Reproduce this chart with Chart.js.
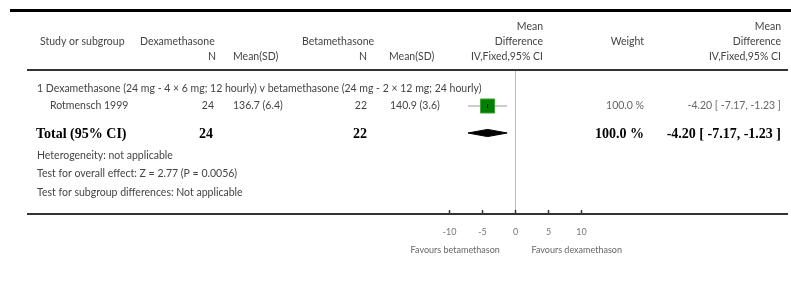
<!DOCTYPE html>
<html>
<head>
<meta charset="utf-8">
<script src="https://cdn.jsdelivr.net/npm/chart.js@4.4.0/dist/chart.umd.min.js"></script>
<style>
  html, body { margin: 0; padding: 0; background: #fff; }
  #wrap { width: 791px; height: 287px; }
</style>
</head>
<body>
<div id="wrap"><canvas id="forest"></canvas></div>
<script>
// ---- data ----
const studies = ["Rotmensch 1999"];
const dexN = [24];
const dexMean = [136.7];
const dexSD = [6.4];
const betaN = [22];
const betaMean = [140.9];
const betaSD = [3.6];
const meanDiff = [-4.20];
const ciLow = [-7.17];
const ciHigh = [-1.23];
const weights = [100.0];

const totalDexN = 24;
const totalBetaN = 22;
const totalMD = -4.20;
const totalLow = -7.17;
const totalHigh = -1.23;
const totalWeight = 100.0;

const axisTicks = [-10, -5, 0, 5, 10];
const subgroupTitle = "1 Dexamethasone (24 mg - 4 \u00d7 6 mg; 12 hourly) v betamethasone (24 mg - 2 \u00d7 12 mg; 24 hourly)";
const footnotes = [
  "Heterogeneity: not applicable",
  "Test for overall effect: Z = 2.77 (P = 0.0056)",
  "Test for subgroup differences: Not applicable"
];

// ---- layout ----
const SANS = "Lato, 'Open Sans', sans-serif";
const SERIF = "'Liberation Serif', 'DejaVu Serif', serif";
const studyRow = 2;      // y-units (18px each)
const totalRow = 3.5;
const diamondHalf = 0.2;

const fmtCI = (m, l, h) => m.toFixed(2) + " [ " + l.toFixed(2) + ", " + h.toFixed(2) + " ]";

// CI lines + squares
const ciData = [];
studies.forEach((s, i) => {
  ciData.push({ x: ciLow[i], y: studyRow + i });
  ciData.push({ x: ciHigh[i], y: studyRow + i });
  ciData.push({ x: NaN, y: NaN });
});
const pointData = studies.map((s, i) => ({ x: meanDiff[i], y: studyRow + i }));
const diamond = [
  { x: totalLow, y: totalRow },
  { x: totalMD, y: totalRow - diamondHalf },
  { x: totalHigh, y: totalRow },
  { x: totalMD, y: totalRow + diamondHalf },
  { x: totalLow, y: totalRow }
];

function txt(ctx, s, x, y, align, font, color) {
  ctx.font = font;
  ctx.fillStyle = color;
  ctx.textAlign = align;
  ctx.textBaseline = "middle";
  ctx.fillText(s, x, y);
}

// zero line under the marks
const zeroLine = {
  id: "zeroLine",
  beforeDatasetsDraw(chart) {
    const ctx = chart.ctx;
    const a = chart.chartArea;
    const px = Math.round(chart.scales.x.getPixelForValue(0)) + 0.5;
    ctx.save();
    ctx.strokeStyle = "#bbb";
    ctx.lineWidth = 1;
    ctx.beginPath();
    ctx.moveTo(px, a.top);
    ctx.lineTo(px, a.bottom);
    ctx.stroke();
    ctx.restore();
  }
};

const tablePlugin = {
  id: "forestTable",
  afterDraw(chart) {
    const ctx = chart.ctx;
    const xs = chart.scales.x, ys = chart.scales.y;
    const area = chart.chartArea;
    ctx.save();

    // rules
    ctx.fillStyle = "#000";
    ctx.fillRect(10, 9, 781, 3);
    ctx.fillStyle = "#333";
    ctx.fillRect(area.left, area.top - 1, area.right - area.left, 2);
    ctx.fillRect(area.left, area.bottom - 1, area.right - area.left, 2);

    // axis ticks + labels
    ctx.strokeStyle = "#333";
    ctx.lineWidth = 1.5;
    axisTicks.forEach(v => {
      const px = Math.round(xs.getPixelForValue(v)) + 0.5;
      ctx.beginPath();
      ctx.moveTo(px, area.bottom - 4);
      ctx.lineTo(px, area.bottom);
      ctx.stroke();
      txt(ctx, String(v), px, 232, "center", "9px " + SANS, "#777");
    });

    const hf = "10.5px " + SANS;
    const hc = "#444";
    // header
    txt(ctx, "Study or subgroup", 40, 42, "left", hf, hc);
    txt(ctx, "Dexamethasone", 140, 42, "left", hf, hc);
    txt(ctx, "N", 216, 57, "right", hf, hc);
    txt(ctx, "Mean(SD)", 233, 57, "left", hf, hc);
    txt(ctx, "Betamethasone", 302, 42, "left", hf, hc);
    txt(ctx, "N", 367, 57, "right", hf, hc);
    txt(ctx, "Mean(SD)", 389, 57, "left", hf, hc);
    txt(ctx, "Mean", 543, 27, "right", hf, hc);
    txt(ctx, "Difference", 543, 42, "right", hf, hc);
    txt(ctx, "IV,Fixed,95% CI", 543, 57, "right", hf, hc);
    txt(ctx, "Weight", 644, 42, "right", hf, hc);
    txt(ctx, "Mean", 781, 27, "right", hf, hc);
    txt(ctx, "Difference", 781, 42, "right", hf, hc);
    txt(ctx, "IV,Fixed,95% CI", 781, 57, "right", hf, hc);

    // subgroup title
    txt(ctx, subgroupTitle, 37, ys.getPixelForValue(1.05), "left", hf, hc);

    // studies
    studies.forEach((s, i) => {
      const py = ys.getPixelForValue(studyRow + i);
      txt(ctx, s, 50, py, "left", hf, hc);
      txt(ctx, String(dexN[i]), 214, py, "right", hf, hc);
      txt(ctx, dexMean[i].toFixed(1) + " (" + dexSD[i].toFixed(1) + ")", 233, py, "left", hf, hc);
      txt(ctx, String(betaN[i]), 367, py, "right", hf, hc);
      txt(ctx, betaMean[i].toFixed(1) + " (" + betaSD[i].toFixed(1) + ")", 390, py, "left", hf, hc);
      txt(ctx, weights[i].toFixed(1) + " %", 644, py, "right", hf, "#666");
      txt(ctx, fmtCI(meanDiff[i], ciLow[i], ciHigh[i]), 781, py, "right", hf, "#666");
    });

    // total
    const ty = ys.getPixelForValue(totalRow) + 1;
    const bf = "bold 14px " + SERIF;
    txt(ctx, "Total (95% CI)", 36, ty, "left", bf, "#000");
    txt(ctx, String(totalDexN), 213, ty, "right", bf, "#000");
    txt(ctx, String(totalBetaN), 367, ty, "right", bf, "#000");
    txt(ctx, totalWeight.toFixed(1) + " %", 644, ty, "right", bf, "#000");
    txt(ctx, fmtCI(totalMD, totalLow, totalHigh), 781, ty, "right", bf, "#000");

    // footnotes
    footnotes.forEach((f, i) => {
      txt(ctx, f, 37, ys.getPixelForValue(4.75 + i * 1.03), "left", hf, hc);
    });

    // favours labels
    const ff = "9px " + SANS;
    txt(ctx, "Favours betamethason", xs.getPixelForValue(-9.1), 250, "center", ff, "#666");
    txt(ctx, "Favours dexamethason", xs.getPixelForValue(9.3), 250, "center", ff, "#666");

    ctx.restore();
  }
};

new Chart(document.getElementById("forest"), {
  type: "scatter",
  data: {
    datasets: [
      {
        // confidence interval whiskers (drawn first)
        order: 4,
        data: ciData,
        showLine: true,
        spanGaps: false,
        borderColor: "#999",
        borderWidth: 1,
        pointRadius: 0
      },
      {
        order: 3,
        data: pointData,
        pointStyle: "rect",
        pointRadius: 9.9,
        backgroundColor: "#008000",
        borderColor: "#3aa03a",
        borderWidth: 1
      },
      {
        // small vertical tick at the point estimate
        order: 2,
        data: pointData,
        pointStyle: "line",
        rotation: 90,
        pointRadius: 2,
        borderColor: "#000",
        borderWidth: 1
      },
      {
        order: 1,
        data: diamond,
        showLine: true,
        fill: "shape",
        backgroundColor: "#000",
        borderColor: "#000",
        borderWidth: 1,
        pointRadius: 0,
        tension: 0
      }
    ]
  },
  options: {
    responsive: true,
    maintainAspectRatio: false,
    animation: false,
    layout: { autoPadding: false, padding: { top: 70, left: 27, right: 3, bottom: 73 } },
    plugins: {
      legend: { display: false },
      tooltip: { enabled: false }
    },
    scales: {
      x: {
        type: "linear",
        display: false,
        min: -73.98,
        max: 41.32
      },
      y: {
        type: "linear",
        display: false,
        reverse: true,
        min: 0,
        max: 8
      }
    }
  },
  plugins: [zeroLine, tablePlugin]
});
</script>
</body>
</html>
